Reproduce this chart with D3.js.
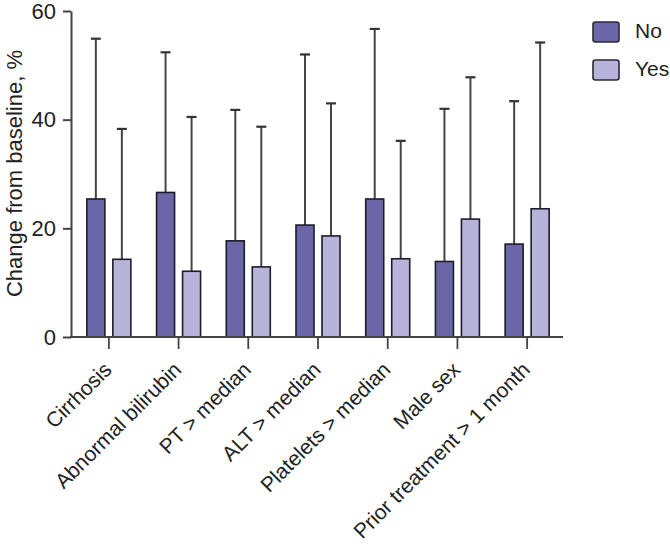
<!DOCTYPE html>
<html>
<head>
<meta charset="utf-8">
<script src="https://cdn.jsdelivr.net/npm/d3@7"></script>
<style>
  html, body { margin: 0; padding: 0; background: #fff; }
  svg { display: block; font-family: "Liberation Sans", Arial, Helvetica, sans-serif; }
</style>
</head>
<body>
<svg id="chart" width="670" height="550"></svg>
<script>
const categories = ["Cirrhosis", "Abnormal bilirubin", "PT > median", "ALT > median",
                    "Platelets > median", "Male sex", "Prior treatment > 1 month"];
const seriesNames = ["No", "Yes"];
const noValues  = [25.4, 26.6, 17.7, 20.6, 25.4, 13.9, 17.1];
const noErrors  = [29.5, 25.8, 24.1, 31.4, 31.3, 28.1, 26.3];   // SD above mean
const yesValues = [14.3, 12.1, 12.9, 18.6, 14.4, 21.7, 23.6];
const yesErrors = [24.0, 28.4, 25.8, 24.4, 21.7, 26.1, 30.6];
const yTicks = [0, 20, 40, 60];

const colors = { No: "#6a66a7", Yes: "#b8b3da" };

const svg = d3.select("#chart");
const fontSize = 21;

const y = d3.scaleLinear().domain([0, 60]).range([337, 11]);
const x0 = d3.scaleBand().domain(categories).range([74, 562]);
const x1 = d3.scaleBand().domain(seriesNames).range([-26, 26]);
const barW = 18;

const data = categories.map((c, i) => ({
  cat: c,
  vals: [
    { s: "No", v: noValues[i], e: noErrors[i] },
    { s: "Yes", v: yesValues[i], e: yesErrors[i] }
  ]
}));

const cx = c => x0(c) + x0.bandwidth() / 2;

// error bars (drawn behind bars)
const groups = svg.append("g").selectAll("g").data(data).join("g")
  .attr("transform", d => `translate(${cx(d.cat)},0)`);

const eb = groups.selectAll("g.eb").data(d => d.vals).join("g").attr("class", "eb");
eb.append("line")
  .attr("x1", d => x1(d.s) + x1.bandwidth() / 2)
  .attr("x2", d => x1(d.s) + x1.bandwidth() / 2)
  .attr("y1", d => y(d.v))
  .attr("y2", d => y(d.v + d.e))
  .attr("stroke", "#454545").attr("stroke-width", 2);
eb.append("line")
  .attr("x1", d => x1(d.s) + x1.bandwidth() / 2 - 5)
  .attr("x2", d => x1(d.s) + x1.bandwidth() / 2 + 5)
  .attr("y1", d => y(d.v + d.e))
  .attr("y2", d => y(d.v + d.e))
  .attr("stroke", "#333").attr("stroke-width", 2.2);

groups.selectAll("rect").data(d => d.vals).join("rect")
  .attr("x", d => x1(d.s) + (x1.bandwidth() - barW) / 2)
  .attr("y", d => y(d.v))
  .attr("width", barW)
  .attr("height", d => y(0) - y(d.v))
  .attr("fill", d => colors[d.s])
  .attr("stroke", "#1c1c2a").attr("stroke-width", 1.6);

// Y axis
const yAxis = svg.append("g").attr("transform", "translate(71,0)")
  .call(d3.axisLeft(y).tickValues(yTicks).tickSize(8).tickPadding(7).tickSizeOuter(0));
yAxis.select(".domain").attr("stroke", "#444").attr("stroke-width", 2);
yAxis.selectAll(".tick line").attr("stroke", "#444").attr("stroke-width", 2);
yAxis.selectAll(".tick text").attr("font-size", fontSize + 1).attr("fill", "#222")
  .attr("font-family", "Liberation Sans, Arial, sans-serif");

// X axis
const xAxis = svg.append("g").attr("transform", "translate(0,337)")
  .call(d3.axisBottom(x0).tickSize(12).tickSizeOuter(0).tickFormat(""));
xAxis.select(".domain").remove();
xAxis.selectAll(".tick line").attr("stroke", "#444").attr("stroke-width", 1.8);
svg.append("line").attr("x1", 70).attr("x2", 563).attr("y1", 337).attr("y2", 337)
  .attr("stroke", "#444").attr("stroke-width", 2);

svg.append("g").selectAll("text").data(categories).join("text")
  .attr("transform", d => `translate(${cx(d) + 4},371) rotate(-45)`)
  .attr("text-anchor", "end")
  .attr("font-size", fontSize)
  .attr("fill", "#222")
  .text(d => d);

// Y label
svg.append("text")
  .attr("transform", "translate(22,173.5) rotate(-90)")
  .attr("text-anchor", "middle")
  .attr("font-size", fontSize + 1)
  .attr("fill", "#222")
  .text("Change from baseline, %");

// Legend
const legend = svg.append("g").selectAll("g").data(seriesNames).join("g")
  .attr("transform", (d, i) => `translate(593,${22 + i * 38})`);
legend.append("rect")
  .attr("width", 26).attr("height", 20).attr("rx", 2.5)
  .attr("fill", d => colors[d]).attr("stroke", "#2a2a35").attr("stroke-width", 1.6);
legend.append("text")
  .attr("x", 42).attr("y", 16)
  .attr("font-size", fontSize)
  .attr("fill", "#222")
  .text(d => d);
</script>
</body>
</html>
